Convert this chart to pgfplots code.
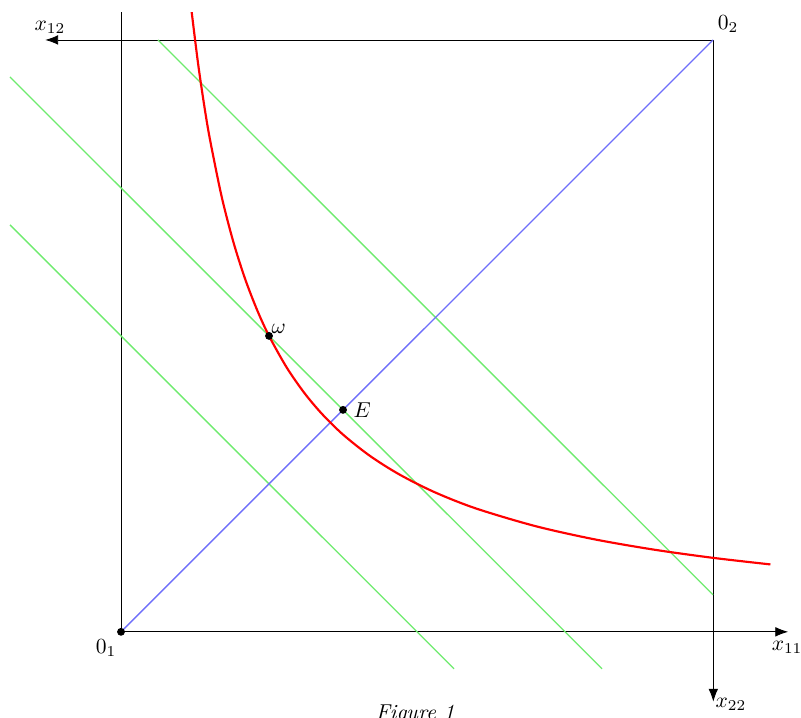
\documentclass[border=0pt]{standalone}
\usepackage{pgfplots}
\pgfplotsset{compat=1.18}
\usetikzlibrary{arrows.meta}
\definecolor{lgreen}{RGB}{110,235,110}
\definecolor{lblue}{RGB}{110,110,250}
\begin{document}
\begin{tikzpicture}
\begin{axis}[
  name=ax,
  scale only axis,
  width=13.07cm, height=11.71cm,
  xmin=-0.2044, xmax=1.1486,
  ymin=-0.145, ymax=1.0675,
  axis lines=none,
  clip=false,
]
% box / axes
\addplot[black, line width=0.4pt, -{Latex[length=6pt,width=4.5pt]}] coordinates {(0,0) (1.127,0)};
\addplot[black, line width=0.4pt] coordinates {(0.0005,0) (0.0005,1.047)};
\addplot[black, line width=0.4pt, -{Latex[length=6pt,width=4.5pt]}] coordinates {(1,1) (-0.128,1)};
\addplot[black, line width=0.4pt, -{Latex[length=6pt,width=4.5pt]}] coordinates {(1.0005,1) (1.0005,-0.118)};
% budget lines
\addplot[lgreen, line width=0.6pt] coordinates {(-0.1875,0.6875) (0.5625,-0.0625)};
\addplot[lgreen, line width=0.6pt] coordinates {(-0.1875,0.9375) (0.8125,-0.0625)};
\addplot[lgreen, line width=0.6pt] coordinates {(0.0625,1) (1,0.0625)};
% diagonal
\addplot[lblue, line width=0.6pt] coordinates {(0,0) (1,1)};
% indifference curve
\addplot[red, line width=1.0pt, smooth] coordinates {
(0.1194,1.047) (0.13,0.9615) (0.14,0.8929) (0.15,0.8333) (0.17,0.7353)
(0.19,0.6579) (0.21,0.5952) (0.23,0.5435) (0.25,0.5) (0.28,0.4464)
(0.31,0.4032) (0.34,0.3676) (0.375,0.3333) (0.42,0.2976) (0.47,0.2660)
(0.53,0.2358) (0.6,0.2083) (0.7,0.1786) (0.8,0.15625) (0.9,0.1389)
(1.0,0.125) (1.097,0.1139)};
% points
\addplot[only marks, mark=*, mark size=1.6pt, black] coordinates {(0,0) (0.25,0.5) (0.375,0.375)};
% labels
\node[anchor=south west, inner sep=1pt] at (axis cs:0.25,0.5) {$\omega$};
\node[anchor=west, inner sep=2pt] at (axis cs:0.385,0.375) {$E$};
\node[anchor=north east, inner sep=2pt] at (axis cs:0,-0.005) {$0_1$};
\node[anchor=south west, inner sep=2pt] at (axis cs:1,1.005) {$0_2$};
\node[anchor=north, inner sep=2pt] at (axis cs:1.125,-0.008) {$x_{11}$};
\node[anchor=south, inner sep=2pt] at (axis cs:-0.12,1.003) {$x_{12}$};
\node[anchor=west, inner sep=1pt] at (axis cs:1.0,-0.122) {$x_{22}$};
\node[anchor=north, inner sep=0pt] at (axis cs:0.497,-0.122) {\textit{Figure 1}};
\end{axis}
\pgfresetboundingbox
\useasboundingbox (ax.south west) rectangle (ax.north east);
\end{tikzpicture}
\end{document}
